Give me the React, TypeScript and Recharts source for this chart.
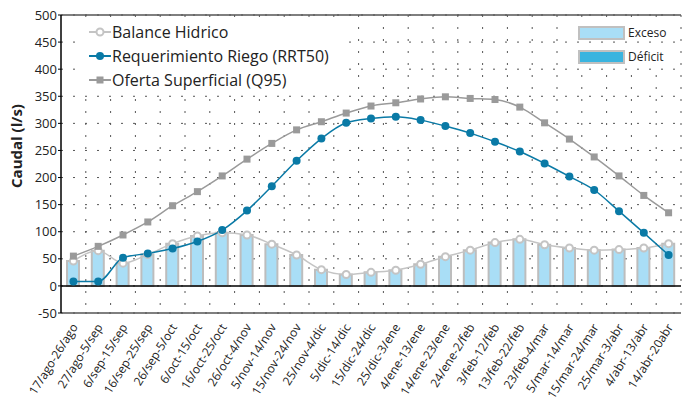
import React from 'react'
import {
  ComposedChart, Bar, Line, XAxis, YAxis, CartesianGrid, ReferenceLine,
} from 'recharts'

const categories = [
  '17/ago-26/ago', '27/ago-5/sep', '6/sep-15/sep', '16/sep-25/sep', '26/sep-5/oct',
  '6/oct-15/oct', '16/oct-25/oct', '26/oct-4/nov', '5/nov-14/nov', '15/nov-24/nov',
  '25/nov-4/dic', '5/dic-14/dic', '15/dic-24/dic', '25/dic-3/ene', '4/ene-13/ene',
  '14/ene-23/ene', '24/ene-2/feb', '3/feb-12/feb', '13/feb-22/feb', '23/feb-4/mar',
  '5/mar-14/mar', '15/mar-24/mar', '25/mar-3/abr', '4/abr-13/abr', '14/abr-20abr',
]
const oferta = [55, 73, 94, 118, 148, 174, 203, 234, 263, 288, 303, 319, 332, 338, 345, 349, 346, 344, 330, 301, 271, 238, 203, 167, 135]
const requerimiento = [8, 8, 52, 60, 69, 82, 103, 139, 184, 231, 272, 301, 309, 312, 306, 295, 282, 266, 248, 226, 202, 177, 138, 98, 57]
const balance = [46, 65, 42, 58, 78, 92, 98, 94, 77, 57, 30, 21, 25, 29, 40, 54, 66, 80, 86, 76, 70, 66, 67, 70, 78]
const exceso = [46, 65, 42, 58, 78, 92, 98, 94, 77, 57, 30, 21, 25, 29, 40, 54, 66, 80, 86, 76, 70, 66, 67, 70, 78]
const deficit = [0, 0, 0, 0, 0, 0, 0, 0, 0, 0, 0, 0, 0, 0, 0, 0, 0, 0, 0, 0, 0, 0, 0, 0, 0]
const yTicks = [-50, 0, 50, 100, 150, 200, 250, 300, 350, 400, 450, 500]

const data = categories.map((c, i) => ({
  name: c,
  oferta: oferta[i],
  req: requerimiento[i],
  balance: balance[i],
  exceso: exceso[i],
  deficit: deficit[i],
}))

const FONT = '"Open Sans", sans-serif'
const C_REQ = '#0a7aa6'
const C_OF = '#9a9a9a'
const C_BAL = '#c4c4c4'
const C_EXC = '#a9def6'
const C_DEF = '#3ab4df'

const XTick = (props: any) => {
  const { x, y, payload } = props
  const px = x + 5
  const py = y + 14
  return (
    <text x={px} y={py} transform={`rotate(-58, ${px}, ${py})`} textAnchor="end"
      fontSize={12} fill="#222" fontFamily={FONT}>
      {payload.value}
    </text>
  )
}

const SquareDot = (props: any) => {
  const { cx, cy } = props
  if (cx == null || cy == null) return null
  return <rect x={cx - 3.5} y={cy - 3.5} width={7} height={7} fill={C_OF} />
}

// leyenda dibujada encima del grafico
const LegendOverlay = () => (
  <div style={{ position: 'absolute', left: 0, top: 0, width: 682, height: 100, fontFamily: FONT, color: '#222', pointerEvents: 'none' }}>
    <div style={{ position: 'absolute', left: 82, top: 21, width: 258, height: 70, background: '#fff' }} />
    {[
      { label: 'Balance Hidrico', color: C_BAL, kind: 'open', top: 22 },
      { label: 'Requerimiento Riego (RRT50)', color: C_REQ, kind: 'dot', top: 46 },
      { label: 'Oferta Superficial (Q95)', color: C_OF, kind: 'square', top: 70 },
    ].map((it) => (
      <div key={it.label} style={{ position: 'absolute', left: 89, top: it.top, display: 'flex', alignItems: 'center', fontSize: 16, lineHeight: '20px' }}>
        <svg width={22} height={20}>
          <line x1={0} y1={10} x2={22} y2={10} stroke={it.color} strokeWidth={2} />
          {it.kind === 'open' && <circle cx={11} cy={10} r={3.5} fill="#fff" stroke={it.color} strokeWidth={2} />}
          {it.kind === 'dot' && <circle cx={11} cy={10} r={4} fill={it.color} />}
          {it.kind === 'square' && <rect x={7.5} y={6.5} width={7} height={7} fill={it.color} />}
        </svg>
        <span style={{ marginLeft: 1 }}>{it.label}</span>
      </div>
    ))}
    {[
      { label: 'Exceso', color: C_EXC, top: 24 },
      { label: 'Déficit', color: C_DEF, top: 48 },
    ].map((it) => (
      <div key={it.label} style={{ position: 'absolute', left: 578, top: it.top, display: 'flex', alignItems: 'center', fontSize: 12, background: '#fff' }}>
        <div style={{ width: 43, height: 10, background: it.color, border: '2px solid #c0c0c0' }} />
        <span style={{ marginLeft: 3 }}>{it.label}</span>
      </div>
    ))}
  </div>
)

export default function App() {
  return (
    <div style={{ position: 'absolute', left: 0, top: 0, width: 682, height: 402, background: '#fff' }}>
      <ComposedChart width={682} height={402} data={data}
        margin={{ top: 15, right: 1, left: 0, bottom: 0 }} barSize={12} barGap={-12}>
        <CartesianGrid stroke="#555" strokeDasharray="2 10"
          verticalCoordinatesGenerator={({ offset }: any) => {
            const step = offset.width / categories.length
            return categories.map((_, i) => offset.left + step * (i + 1))
          }} />
        <XAxis dataKey="name" interval={0} tick={<XTick />} tickLine={false} tickSize={0} tickMargin={0}
          axisLine={{ stroke: '#555', strokeWidth: 1.5 }} height={89} />
        <YAxis domain={[-50, 500]} ticks={yTicks} interval={0} width={61}
          tick={{ fontSize: 13, fill: '#222', fontFamily: FONT }} tickSize={3} tickMargin={1}
          tickLine={{ stroke: '#000' }} axisLine={{ stroke: '#000', strokeWidth: 1.5 }}
          label={{ value: 'Caudal (l/s)', angle: -90, position: 'insideLeft', offset: 17, dy: -18,
            style: { fontSize: 15, fontWeight: 700, fill: '#222', fontFamily: FONT, textAnchor: 'middle' } }} />
        <ReferenceLine y={0} stroke="#000" strokeWidth={1.5} />
        <ReferenceLine y={500} stroke="#555" strokeWidth={1.5} />
        <Bar dataKey="exceso" fill={C_EXC} stroke="#bdbdbd" strokeWidth={2} isAnimationActive={false} />
        <Bar dataKey="deficit" fill={C_DEF} stroke="#bdbdbd" strokeWidth={2} isAnimationActive={false} />
        <Line dataKey="balance" type="monotone" stroke={C_BAL} strokeWidth={1.5}
          dot={{ r: 3.5, fill: '#fff', stroke: C_BAL, strokeWidth: 2 }} isAnimationActive={false} />
        <Line dataKey="oferta" type="monotone" stroke={C_OF} strokeWidth={1.5}
          dot={<SquareDot />} isAnimationActive={false} />
        <Line dataKey="req" type="monotone" stroke={C_REQ} strokeWidth={1.5}
          dot={{ r: 4, fill: C_REQ, stroke: C_REQ, strokeWidth: 0 }} isAnimationActive={false} />
      </ComposedChart>
      <LegendOverlay />
    </div>
  )
}
